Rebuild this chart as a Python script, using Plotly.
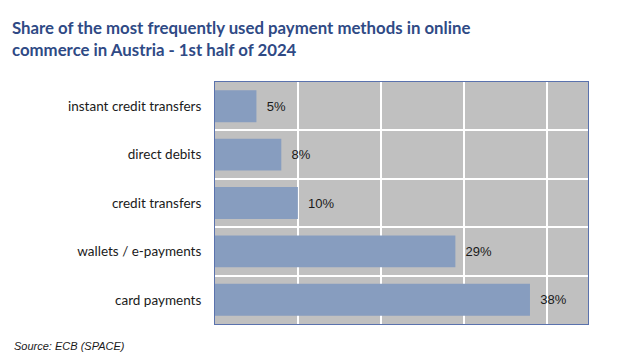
import plotly.graph_objects as go

categories = ["card payments", "wallets / e-payments", "credit transfers", "direct debits", "instant credit transfers"]
values = [38, 29, 10, 8, 5]
labels = ["38%", "29%", "10%", "8%", "5%"]

title_text = "Share of the most frequently used payment methods in online<br>commerce in Austria - 1st half of 2024"
source_text = "Source: ECB (SPACE)"

positions = list(range(len(categories)))
minor_positions = [p + 0.5 for p in positions[:-1]]

fig = go.Figure()
fig.add_trace(go.Bar(
    x=values, y=positions, orientation="h",
    marker=dict(color="#879dbf", line=dict(width=0)),
    width=0.66,
    text=labels, texttemplate="  %{text}", textposition="outside",
    textfont=dict(family="Liberation Sans, Arial", size=13, color="#1a1a1a"),
    cliponaxis=False,
    hoverinfo="skip",
))

fig.update_layout(
    width=630, height=362,
    margin=dict(l=215, r=42, t=82, b=38),
    paper_bgcolor="white",
    plot_bgcolor="#c0c0c0",
    showlegend=False,
    title=dict(
        text=title_text, x=0.019, xanchor="left", y=0.905, yanchor="top",
        font=dict(family="Lato", size=16.8, color="#2f4a85", weight="bold"),
    ),
    xaxis=dict(
        range=[0, 45], tick0=0, dtick=10, showticklabels=False,
        showgrid=True, gridcolor="white", gridwidth=1.5,
        zeroline=False, showline=True, linecolor="#5a72ad", linewidth=1, mirror=True,
        ticks="",
    ),
    yaxis=dict(
        range=[-0.5, len(categories) - 0.5],
        tickmode="array", tickvals=positions, ticktext=categories,
        showgrid=False, zeroline=False,
        showline=True, linecolor="#5a72ad", linewidth=1, mirror=True,
        tickfont=dict(family="Lato", size=13.5, color="#1a1a1a"),
        ticks="", ticklen=0, ticklabelstandoff=10,
        minor=dict(tickmode="array", tickvals=minor_positions, showgrid=True,
                   gridcolor="white", gridwidth=1.5, ticks=""),
    ),
    annotations=[dict(
        text=source_text, xref="paper", yref="paper", x=-0.544, y=-0.058,
        xanchor="left", yanchor="top", showarrow=False,
        font=dict(family="Liberation Sans, Arial", size=11, color="#1a1a1a", style="italic"),
    )],
)

fig.write_html("out.html")
